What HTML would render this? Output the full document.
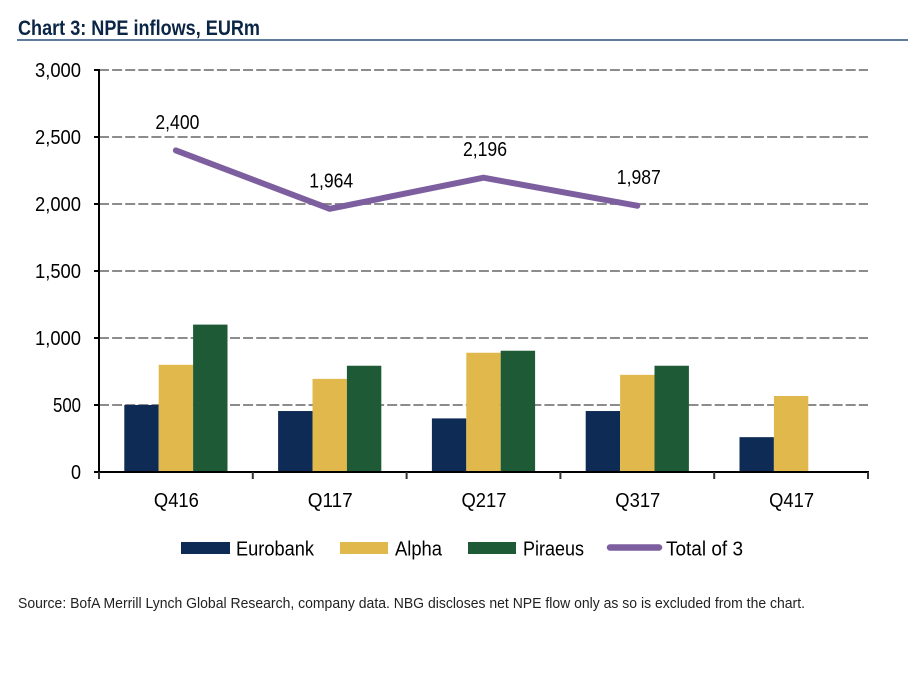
<!DOCTYPE html>
<html lang="en">
<head>
<meta charset="utf-8">
<title>Chart 3: NPE inflows, EURm</title>
<style>
html,body{margin:0;padding:0;background:#fff;}
svg{display:block;font-family:"Liberation Sans",Arial,sans-serif;}
</style>
</head>
<body>
<svg id="chart" width="922" height="678" viewBox="0 0 922 678" xmlns="http://www.w3.org/2000/svg">
  <rect x="0" y="0" width="922" height="678" fill="#ffffff"/>
  <text x="18" y="35" font-size="21" font-weight="700" fill="#0b2545" textLength="242" lengthAdjust="spacingAndGlyphs">Chart 3: NPE inflows, EURm</text>
  <rect x="17" y="39" width="891" height="2" fill="#5f7c9c"/>
  <g id="grid"></g>
  <g id="bars"></g>
  <g id="axes"></g>
  <g id="line"></g>
  <g id="legend">
    <rect x="181" y="542" width="49" height="12" fill="#0e2b55"/>
    <text x="236" y="555.5" font-size="20.5" fill="#000" textLength="78" lengthAdjust="spacingAndGlyphs">Eurobank</text>
    <rect x="340" y="542" width="48" height="12" fill="#e0b84c"/>
    <text x="395" y="555.5" font-size="20.5" fill="#000" textLength="47" lengthAdjust="spacingAndGlyphs">Alpha</text>
    <rect x="468" y="542" width="48" height="12" fill="#1e5a35"/>
    <text x="523" y="555.5" font-size="20.5" fill="#000" textLength="61" lengthAdjust="spacingAndGlyphs">Piraeus</text>
    <line x1="610" y1="547.5" x2="659" y2="547.5" stroke="#7d5f9f" stroke-width="6.5" stroke-linecap="round"/>
    <text x="666" y="555.5" font-size="20.5" fill="#000" textLength="77" lengthAdjust="spacingAndGlyphs">Total of 3</text>
  </g>
  <text x="18" y="608" font-size="15" fill="#222222" textLength="787" lengthAdjust="spacingAndGlyphs">Source:  BofA Merrill Lynch Global Research, company  data. NBG discloses  net NPE flow only as so is excluded from the chart.</text>
</svg>
<script>
const categories = ['Q416', 'Q117', 'Q217', 'Q317', 'Q417'];
const eurobank = [500, 455, 400, 455, 260];
const alpha = [800, 695, 890, 725, 567];
const piraeus = [1100, 793, 905, 793, null];
const total = [2400, 1964, 2196, 1987, null];
const totalLabels = ['2,400', '1,964', '2,196', '1,987', null];
const yTicks = [0, 500, 1000, 1500, 2000, 2500, 3000];
const yTickLabels = ['0', '500', '1,000', '1,500', '2,000', '2,500', '3,000'];

const NS = 'http://www.w3.org/2000/svg';
const plot = {left: 99, right: 868, top: 70, bottom: 472, yMax: 3000};
const barWidth = 34.4;
const step = (plot.right - plot.left) / categories.length;
const yScale = v => plot.bottom - (v / plot.yMax) * (plot.bottom - plot.top);
const xBand = i => plot.left + step * i;
const xCenter = i => xBand(i) + step / 2;

function make(tag, attrs, parent) {
  const el = document.createElementNS(NS, tag);
  for (const k in attrs) el.setAttribute(k, attrs[k]);
  parent.appendChild(el);
  return el;
}

const grid = document.getElementById('grid');
const axes = document.getElementById('axes');
const bars = document.getElementById('bars');
const lineGroup = document.getElementById('line');

yTicks.forEach((t, i) => {
  if (t > 0) {
    const g = make('line', {x1: plot.left, x2: plot.right, y1: yScale(t), y2: yScale(t), stroke: '#8c8c8c', 'stroke-width': 2, 'stroke-dasharray': '10 3.1'}, grid);
    
    
  }
  const tick = make('line', {x1: plot.left - 5, x2: plot.left, y1: yScale(t), y2: yScale(t), stroke: '#000', 'stroke-width': 2}, axes);
  
  
  const label = make('text', {x: 35, y: yScale(t) + 7, 'font-size': 20, fill: '#000'}, axes);
  const chars = yTickLabels[i].length;
  const labelWidth = chars > 3 ? 46 : (chars > 1 ? 28 : 10);
  label.setAttribute('x', 81 - labelWidth);
  label.setAttribute('textLength', labelWidth);
  label.setAttribute('lengthAdjust', 'spacingAndGlyphs');
  
  
  label.textContent = yTickLabels[i];
});

const yAxis = make('line', {x1: plot.left, x2: plot.left, y1: plot.top - 1, y2: plot.bottom + 1, stroke: '#000', 'stroke-width': 2}, axes);


const xAxis = make('line', {x1: plot.left - 5, x2: plot.right + 1, y1: plot.bottom, y2: plot.bottom, stroke: '#000', 'stroke-width': 2}, axes);



for (let i = 0; i <= categories.length; i++) {
  const tick = make('line', {x1: xBand(i), x2: xBand(i), y1: plot.bottom, y2: plot.bottom + 7, stroke: '#333', 'stroke-width': 2}, axes);
  
  
}

categories.forEach((c, i) => {
  const label = make('text', {x: xCenter(i) - 22, y: 507, 'font-size': 20, fill: '#000', textLength: 45, lengthAdjust: 'spacingAndGlyphs'}, axes);
  
  
  label.textContent = c;
});

function drawSeries(values, color, offset, name) {
  values.forEach((v, i) => {
    if (v === null) return;
    const r = make('rect', {x: xCenter(i) + (offset - 1.5) * barWidth, y: yScale(v), width: barWidth, height: plot.bottom - yScale(v), fill: color}, bars);
    
    
  });
}
drawSeries(eurobank, '#0e2b55', 0, 'bar-eurobank');
drawSeries(alpha, '#e0b84c', 1, 'bar-alpha');
drawSeries(piraeus, '#1e5a35', 2, 'bar-piraeus');

const pts = [];
total.forEach((v, i) => { if (v !== null) pts.push(xCenter(i) + ',' + yScale(v)); });
const path = make('polyline', {points: pts.join(' '), fill: 'none', stroke: '#7d5f9f', 'stroke-width': 6, 'stroke-linecap': 'round', 'stroke-linejoin': 'round'}, lineGroup);



total.forEach((v, i) => {
  if (v === null) return;
  const t = make('text', {x: xCenter(i) - 20.5, y: yScale(v) - 21.5, 'font-size': 20, fill: '#000', textLength: 44, lengthAdjust: 'spacingAndGlyphs'}, lineGroup);
  
  
  t.textContent = totalLabels[i];
});
</script>
</body>
</html>
